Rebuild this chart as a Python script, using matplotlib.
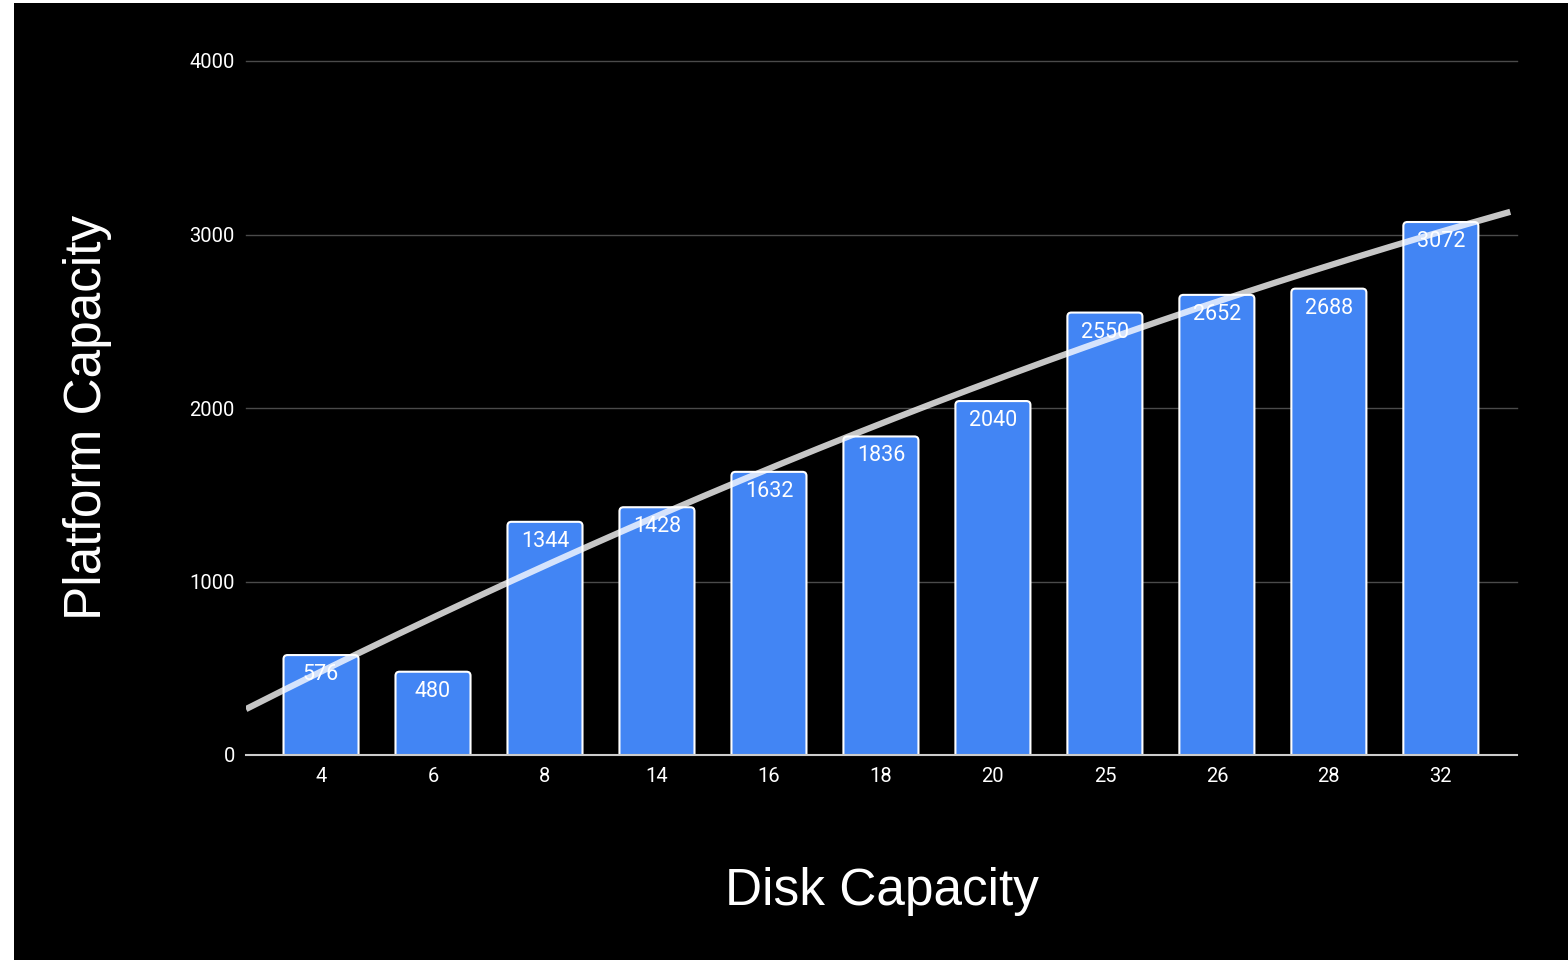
import matplotlib.pyplot as plt
import matplotlib.patches as mpatches
import numpy as np

# data
disk_capacity = ["4", "6", "8", "14", "16", "18", "20", "25", "26", "28", "32"]
platform_capacity = [576, 480, 1344, 1428, 1632, 1836, 2040, 2550, 2652, 2688, 3072]
y_ticks = [0, 1000, 2000, 3000, 4000]

W, H = 1568, 960
fig = plt.figure(figsize=(W / 100, H / 100), dpi=100, facecolor="white")
# black slide area, thin white margin at left and top
fig.patches.append(mpatches.Rectangle((14 / W, 0), 1 - 14 / W, 1 - 3 / H,
                                      transform=fig.transFigure, facecolor="black",
                                      edgecolor="none", zorder=-10))

ax = fig.add_axes([246 / W, 1 - 755 / H, (1517 - 246) / W, (755 - 61) / H])
ax.set_facecolor("black")
ax.set_xlim(-0.67, len(disk_capacity) - 0.32)
ax.set_ylim(0, 4000)

x = np.arange(len(disk_capacity))
bars = ax.bar(x, platform_capacity, width=0.67, color="#4285f4",
              edgecolor="white", linewidth=1.5, zorder=2)

# swap the plain bars for ones with rounded tops
p0 = ax.transData.transform((0, 0))
p1 = ax.transData.transform((1, 1))
xu = 1 / (p1[0] - p0[0])          # data units per pixel, x
yu = 1 / (p1[1] - p0[1])          # data units per pixel, y
aspect = yu / xu
r = 4 * xu
for b in bars:
    b.set_visible(False)
    ext = 3 * r * aspect
    fb = mpatches.FancyBboxPatch((b.get_x(), -ext), b.get_width(), b.get_height() + ext,
                                 boxstyle=f"round,pad=0,rounding_size={r}",
                                 mutation_aspect=aspect, facecolor="#4285f4",
                                 edgecolor="white", linewidth=1.5, zorder=2)
    ax.add_patch(fb)

# polynomial (degree 2) trendline
coef = np.polyfit(x, platform_capacity, 2)
xl = np.linspace(-0.67, len(x) - 0.38, 200)
ax.plot(xl, np.polyval(coef, xl), color="white", lw=4.5, alpha=0.78,
        solid_capstyle="butt", zorder=3)

for xi, v in zip(x, platform_capacity):
    ax.annotate(str(v), (xi, v), xytext=(0, -14), textcoords="offset points",
                ha="center", va="center", color="white", fontsize=15.5,
                family="Roboto", zorder=4)

ax.set_xticks(x)
ax.set_xticklabels(disk_capacity)
ax.set_yticks(y_ticks)
ax.set_yticklabels([str(t) for t in y_ticks])
ax.tick_params(length=0, colors="white", labelsize=14.5)
ax.tick_params(axis="y", pad=8)
ax.tick_params(axis="x", pad=9)
for lab in ax.get_xticklabels() + ax.get_yticklabels():
    lab.set_family("Roboto")

for t in y_ticks[1:]:
    ax.axhline(t, color="#4a4a4a", lw=1, zorder=1, clip_on=False)
for s in ["top", "right", "left"]:
    ax.spines[s].set_visible(False)
ax.spines["bottom"].set_color("#cccccc")
ax.spines["bottom"].set_linewidth(1.5)
ax.spines["bottom"].set_zorder(5)

fig.text(88 / W, 1 - 417 / H, "Platform Capacity", rotation=90, ha="center",
         va="center", color="white", fontsize=37, family="Liberation Sans")
fig.text(882 / W, 1 - 891 / H, "Disk Capacity", ha="center", va="center",
         color="white", fontsize=37, family="Liberation Sans")

fig.savefig("out.png", dpi=100, facecolor=fig.get_facecolor())
